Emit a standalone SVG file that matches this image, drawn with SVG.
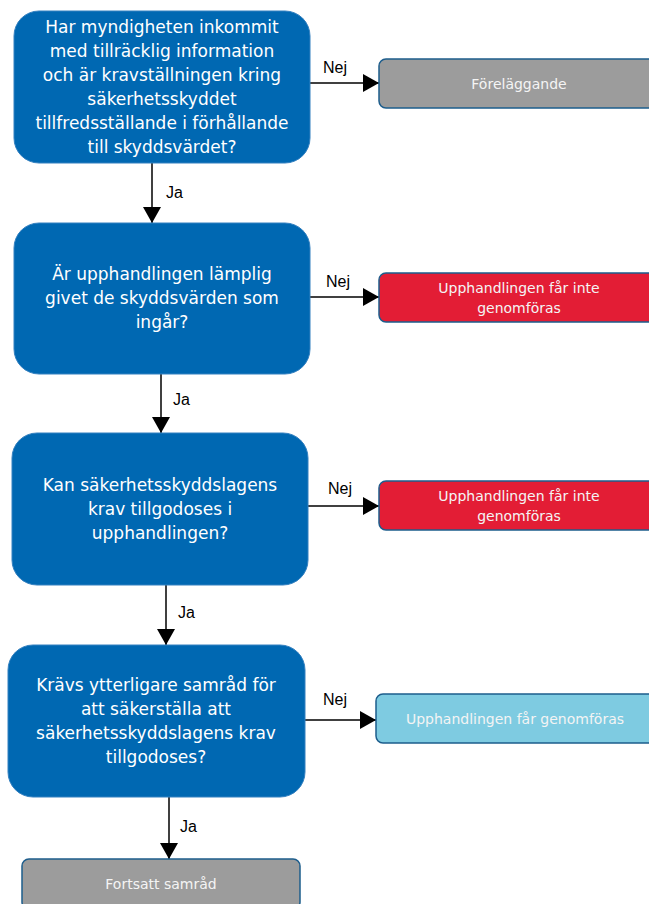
<svg xmlns="http://www.w3.org/2000/svg" width="649" height="904" viewBox="0 0 649 904">
<style>
.q{fill:#0068B2;stroke:#3380c0;stroke-width:1}
.qt{font-family:"DejaVu Sans",sans-serif;font-size:17px;fill:#ffffff;text-anchor:middle}
.r{stroke:#1d5d8c;stroke-width:1.5}
.rt{font-family:"DejaVu Sans",sans-serif;font-size:14px;fill:#f4f4f4;text-anchor:middle}
.gray{fill:#9C9C9C}
.red{fill:#E31D35}
.lb{fill:#7ECBE1}
.lbl{font-family:"Liberation Sans",Arial,sans-serif;font-size:16px;fill:#000000}
.c{stroke:#000000;stroke-width:1.5;fill:none;marker-end:url(#ah)}
</style>
<defs>
<marker id="ah" markerUnits="userSpaceOnUse" markerWidth="16" markerHeight="20" viewBox="0 0 16 20" refX="16" refY="10" orient="auto">
<path d="M0,1 L16,10 L0,19 Z" fill="#000000"/>
</marker>
</defs>
<rect width="649" height="904" fill="#ffffff"/>
<g id="connectors">
<line class="c" x1="152" y1="163" x2="152" y2="223"/>
<line class="c" x1="161" y1="374" x2="161" y2="433"/>
<line class="c" x1="166" y1="585" x2="166" y2="645"/>
<line class="c" x1="169" y1="797" x2="169" y2="859"/>
<line class="c" x1="310" y1="83" x2="379" y2="83"/>
<line class="c" x1="310" y1="297" x2="379" y2="297"/>
<line class="c" x1="308" y1="506" x2="379" y2="506"/>
<line class="c" x1="305" y1="720" x2="376" y2="720"/>
<text class="lbl" x="166" y="198">Ja</text>
<text class="lbl" x="173" y="405">Ja</text>
<text class="lbl" x="178" y="618">Ja</text>
<text class="lbl" x="180" y="832">Ja</text>
<text class="lbl" x="323" y="73">Nej</text>
<text class="lbl" x="326" y="287">Nej</text>
<text class="lbl" x="328" y="494">Nej</text>
<text class="lbl" x="323" y="705">Nej</text>
</g>
<g id="q1">
<rect class="q" x="14" y="11" width="296" height="152" rx="25"/>
<text class="qt" x="162" y="33">Har myndigheten inkommit</text>
<text class="qt" x="162" y="57">med tillräcklig information</text>
<text class="qt" x="162" y="81">och är kravställningen kring</text>
<text class="qt" x="162" y="105">säkerhetsskyddet</text>
<text class="qt" x="162" y="129">tillfredsställande i förhållande</text>
<text class="qt" x="162" y="153">till skyddsvärdet?</text>
</g>
<g id="q2">
<rect class="q" x="14" y="223" width="296" height="151" rx="25"/>
<text class="qt" x="162" y="280">Är upphandlingen lämplig</text>
<text class="qt" x="162" y="304">givet de skyddsvärden som</text>
<text class="qt" x="162" y="328">ingår?</text>
</g>
<g id="q3">
<rect class="q" x="12" y="433" width="296" height="152" rx="25"/>
<text class="qt" x="160" y="491">Kan säkerhetsskyddslagens</text>
<text class="qt" x="160" y="515">krav tillgodoses i</text>
<text class="qt" x="160" y="539">upphandlingen?</text>
</g>
<g id="q4">
<rect class="q" x="8" y="645" width="297" height="152" rx="25"/>
<text class="qt" x="156" y="691">Krävs ytterligare samråd för</text>
<text class="qt" x="156" y="715">att säkerställa att</text>
<text class="qt" x="156" y="739">säkerhetsskyddslagens krav</text>
<text class="qt" x="156" y="763">tillgodoses?</text>
</g>
<g id="forelaggande">
<rect class="r gray" x="379" y="59" width="280" height="49" rx="7"/>
<text class="rt" x="519" y="89">Föreläggande</text>
</g>
<g id="ej1">
<rect class="r red" x="379" y="273" width="280" height="49" rx="7"/>
<text class="rt" x="519" y="293">Upphandlingen får inte</text>
<text class="rt" x="519" y="313">genomföras</text>
</g>
<g id="ej2">
<rect class="r red" x="379" y="481" width="280" height="49" rx="7"/>
<text class="rt" x="519" y="501">Upphandlingen får inte</text>
<text class="rt" x="519" y="521">genomföras</text>
</g>
<g id="fa">
<rect class="r lb" x="376" y="694" width="280" height="49" rx="7"/>
<text class="rt" x="515" y="724">Upphandlingen får genomföras</text>
</g>
<g id="samrad">
<rect class="r gray" x="22" y="859" width="278" height="50" rx="7"/>
<text class="rt" x="161" y="889">Fortsatt samråd</text>
</g>
</svg>
